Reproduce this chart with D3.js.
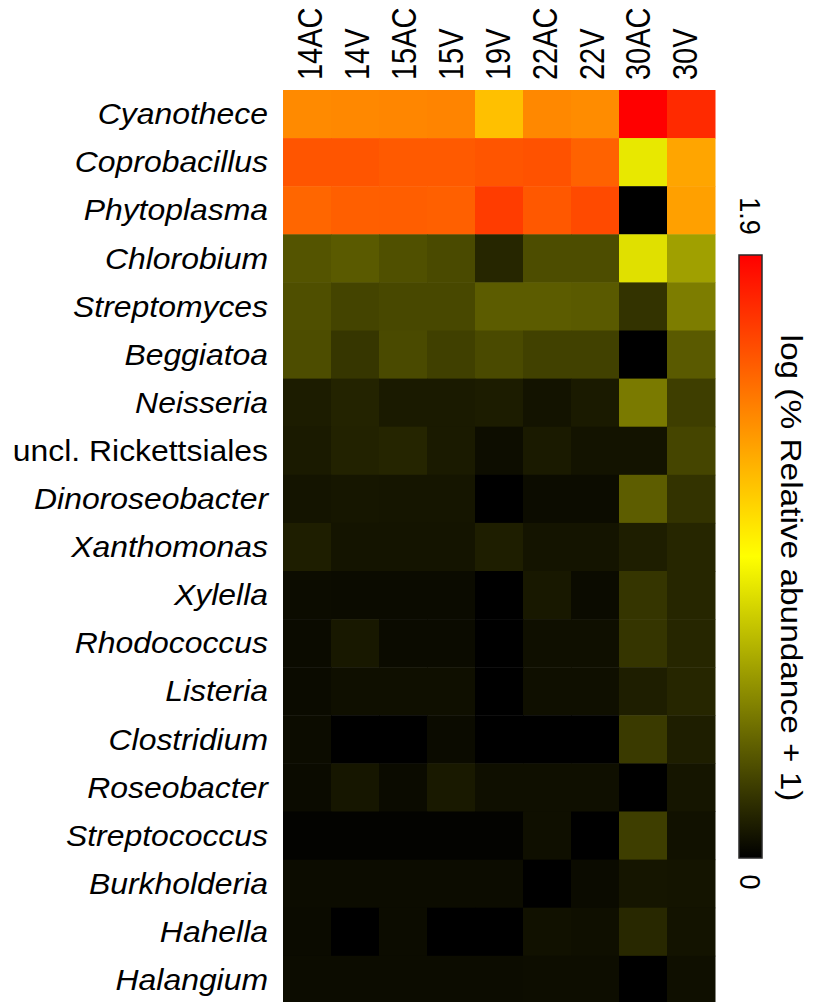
<!DOCTYPE html>
<html>
<head>
<meta charset="utf-8">
<script src="https://cdn.jsdelivr.net/npm/d3@7"></script>
<style>
  html, body { margin: 0; padding: 0; background: #ffffff; }
  svg { display: block; }
  text { font-family: "Liberation Sans", Arial, Helvetica, sans-serif; fill: #000; }
</style>
</head>
<body>
<svg id="chart" width="815" height="1002"></svg>
<script>
// ---- data ----
const samples = ["14AC", "14V", "15AC", "15V", "19V", "22AC", "22V", "30AC", "30V"];
const taxa = ["Cyanothece", "Coprobacillus", "Phytoplasma", "Chlorobium", "Streptomyces",
  "Beggiatoa", "Neisseria", "uncl. Rickettsiales", "Dinoroseobacter", "Xanthomonas",
  "Xylella", "Rhodococcus", "Listeria", "Clostridium", "Roseobacter", "Streptococcus",
  "Burkholderia", "Hahella", "Halangium"];
const italicTaxa = taxa.filter(t => !t.startsWith("uncl."));
// log(% relative abundance + 1), one array per taxon, in sample order
const cyanothece      = [1.386, 1.393, 1.401, 1.408, 1.185, 1.393, 1.378, 1.900, 1.744];
const coprobacillus   = [1.583, 1.583, 1.565, 1.565, 1.583, 1.595, 1.535, 0.864, 1.285];
const phytoplasma     = [1.520, 1.546, 1.550, 1.542, 1.676, 1.572, 1.624, 0.000, 1.304];
const chlorobium      = [0.313, 0.335, 0.298, 0.276, 0.142, 0.287, 0.287, 0.834, 0.596];
const streptomyces    = [0.294, 0.253, 0.268, 0.268, 0.343, 0.343, 0.335, 0.190, 0.466];
const beggiatoa       = [0.287, 0.201, 0.276, 0.238, 0.276, 0.242, 0.242, 0.000, 0.335];
const neisseria       = [0.104, 0.130, 0.097, 0.097, 0.104, 0.071, 0.097, 0.454, 0.231];
const unclRickett     = [0.097, 0.127, 0.138, 0.097, 0.048, 0.097, 0.071, 0.071, 0.257];
const dinoroseobacter = [0.075, 0.082, 0.078, 0.078, 0.000, 0.045, 0.045, 0.346, 0.190];
const xanthomonas     = [0.112, 0.075, 0.075, 0.075, 0.112, 0.075, 0.075, 0.112, 0.142];
const xylella         = [0.045, 0.041, 0.041, 0.041, 0.000, 0.089, 0.041, 0.197, 0.142];
const rhodococcus     = [0.041, 0.089, 0.041, 0.041, 0.000, 0.056, 0.056, 0.197, 0.142];
const listeria        = [0.041, 0.056, 0.056, 0.056, 0.000, 0.056, 0.056, 0.112, 0.142];
const clostridium     = [0.045, 0.000, 0.000, 0.041, 0.000, 0.000, 0.000, 0.216, 0.112];
const roseobacter     = [0.041, 0.082, 0.041, 0.093, 0.056, 0.056, 0.056, 0.000, 0.078];
const streptococcus   = [0.011, 0.011, 0.011, 0.011, 0.011, 0.056, 0.000, 0.231, 0.063];
const burkholderia    = [0.045, 0.045, 0.045, 0.045, 0.045, 0.000, 0.041, 0.078, 0.075];
const hahella         = [0.041, 0.000, 0.045, 0.000, 0.000, 0.063, 0.056, 0.149, 0.071];
const halangium       = [0.045, 0.045, 0.045, 0.045, 0.045, 0.048, 0.048, 0.000, 0.056];
const colorbarTicks = ["0", "1.9"];
const colorbarTitle = "log (% Relative abundance + 1)";

const valueRows = [cyanothece, coprobacillus, phytoplasma, chlorobium, streptomyces,
  beggiatoa, neisseria, unclRickett, dinoroseobacter, xanthomonas, xylella, rhodococcus,
  listeria, clostridium, roseobacter, streptococcus, burkholderia, hahella, halangium];

const cells = [];
taxa.forEach((t, i) => samples.forEach((s, j) => cells.push({ taxon: t, sample: s, value: valueRows[i][j] })));

// ---- scales ----
const vMin = 0, vMax = 1.9;
const color = d3.scaleLinear()
  .domain([vMin, (vMin + vMax) / 2, vMax])
  .range(["#000000", "#ffff00", "#ff0000"])
  .interpolate(d3.interpolateRgb);

const x = d3.scaleBand().domain(samples).range([283, 715]).paddingInner(0).paddingOuter(0);
const rowH = 48.1;
const y = d3.scaleBand().domain(taxa).range([90, 90 + rowH * taxa.length]).padding(0);
const xLab = d3.scalePoint().domain(samples).range([310, 685]);

const svg = d3.select("#chart");

// ---- heatmap cells ----
svg.append("g").selectAll("rect").data(cells).join("rect")
  .attr("x", d => x(d.sample))
  .attr("y", d => y(d.taxon))
  .attr("width", x.bandwidth() + 0.5)
  .attr("height", y.bandwidth() + 0.5)
  .attr("fill", d => color(d.value));

// ---- row labels ----
svg.append("g").selectAll("text").data(taxa).join("text")
  .attr("transform", d => `translate(268,${y(d) + y.bandwidth() / 2}) scale(1.1,1)`)
  .attr("text-anchor", "end")
  .attr("dy", "0.35em")
  .style("font-size", "29px")
  .style("font-style", d => italicTaxa.includes(d) ? "italic" : "normal")
  .text(d => d);

// ---- column labels ----
svg.append("g").selectAll("text").data(samples).join("text")
  .attr("transform", d => `translate(${xLab(d)},80) scale(1.18,1) rotate(-90)`)
  .attr("text-anchor", "start")
  .attr("dy", "0.36em")
  .style("font-size", "29px")
  .text(d => d);

// ---- colour bar ----
const cbX = 739, cbW = 23, cbTop = 255, cbBot = 858;
const cbScale = d3.scaleLinear().domain([vMin, vMax]).range([cbBot, cbTop]);
const defs = svg.append("defs");
const grad = defs.append("linearGradient").attr("id", "cbgrad")
  .attr("x1", 0).attr("y1", 1).attr("x2", 0).attr("y2", 0);
d3.range(0, 1.0001, 0.05).forEach(f => {
  grad.append("stop").attr("offset", f).attr("stop-color", color(vMin + f * (vMax - vMin)));
});
svg.append("rect")
  .attr("x", cbX).attr("y", cbScale(vMax))
  .attr("width", cbW).attr("height", cbScale(vMin) - cbScale(vMax))
  .attr("fill", "url(#cbgrad)")
  .attr("stroke", "#2a2a2a").attr("stroke-width", 1.5);

// tick labels (rotated, reading downward)
svg.append("text")
  .attr("transform", `translate(${cbX + cbW / 2},${cbScale(vMax) - 39}) scale(1.12,1) rotate(90)`)
  .attr("text-anchor", "middle").attr("dy", "0.36em")
  .style("font-size", "27px")
  .text(colorbarTicks[1]);
svg.append("text")
  .attr("transform", `translate(${cbX + cbW / 2},${cbScale(vMin) + 24}) scale(1.12,1) rotate(90)`)
  .attr("text-anchor", "middle").attr("dy", "0.36em")
  .style("font-size", "27px")
  .text(colorbarTicks[0]);

// colour bar title
svg.append("text")
  .attr("transform", `translate(791,568) rotate(90)`)
  .attr("text-anchor", "middle").attr("dy", "0.35em")
  .attr("textLength", 467).attr("lengthAdjust", "spacingAndGlyphs")
  .style("font-size", "30px")
  .text(colorbarTitle);
</script>
</body>
</html>
